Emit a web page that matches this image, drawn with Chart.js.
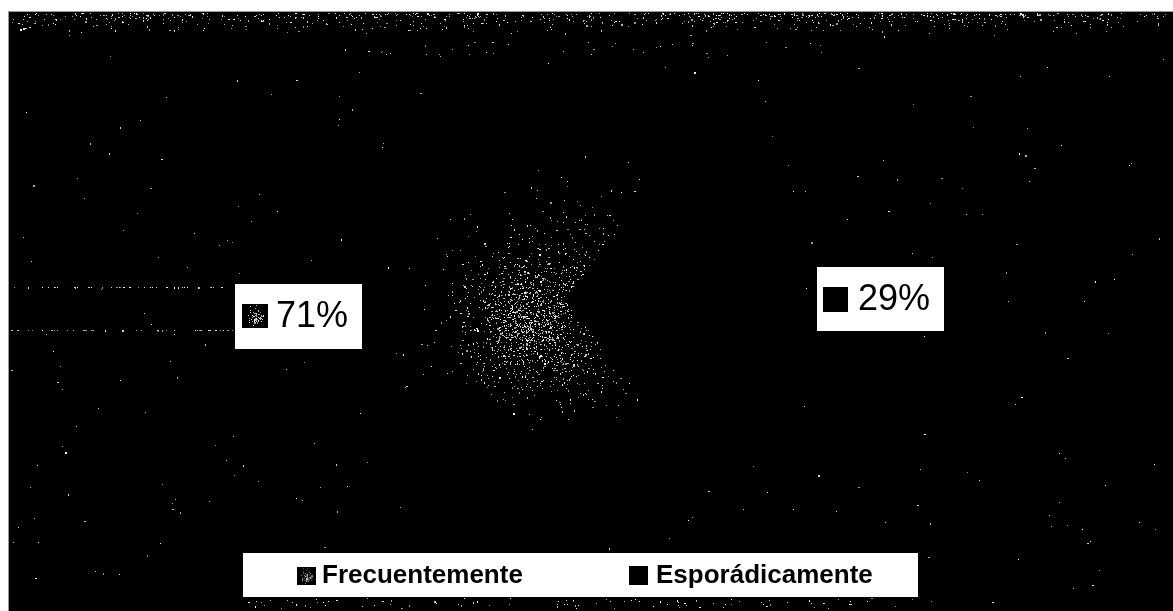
<!DOCTYPE html>
<html>
<head>
<meta charset="utf-8">
<title>Frecuencia</title>
<script src="https://cdn.jsdelivr.net/npm/chart.js@4/dist/chart.umd.min.js"></script>
<style>
    html, body { margin: 0; padding: 0; background: #fff; overflow: hidden; }
    #pie { display: block; }
</style>
</head>
<body>
<canvas id="pie" width="1173" height="611"></canvas>
<script>
const categories = ['Frecuentemente', 'Esporádicamente'];
const values = [71, 29];
const percentLabels = ['71%', '29%'];

// Fixed seed, the scan noise should look the same on every run
let seed = 20077;
function noise() {
    seed = (seed * 16807) % 2147483647;
    return seed / 2147483647;
}
function gauss() {
    return (noise() + noise() + noise() + noise() - 2) * 1.73;
}
function dot(g, x, y) {
    const shade = 140 + Math.floor(noise() * 115);
    g.fillStyle = 'rgb(' + shade + ',' + shade + ',' + shade + ')';
    g.fillRect(Math.round(x), Math.round(y), noise() < 0.15 ? 2 : 1, noise() < 0.15 ? 2 : 1);
}

// Speckled texture of the big slice
function sliceTexture() {
    const c = document.createElement('canvas');
    c.width = 1173; c.height = 611;
    const g = c.getContext('2d');
    g.fillStyle = '#000';
    g.fillRect(0, 0, c.width, c.height);
    // dense core, wider halo and the two wings along the small slice
    for (let i = 0; i < 1000; i++) dot(g, 532 + gauss() * 28, 318 + gauss() * 28);
    for (let i = 0; i < 420; i++) dot(g, 525 + gauss() * 48, 320 + gauss() * 42);
    for (let i = 0; i < 130; i++) dot(g, 565 + gauss() * 32, 240 + gauss() * 30);
    for (let i = 0; i < 130; i++) dot(g, 575 + gauss() * 30, 370 + gauss() * 20);
    return g.createPattern(c, 'no-repeat');
}

// Small tile for the color key of the big slice
function keyTexture() {
    const c = document.createElement('canvas');
    c.width = 26; c.height = 24;
    const g = c.getContext('2d');
    g.fillStyle = '#000';
    g.fillRect(0, 0, 26, 24);
    for (let i = 0; i < 55; i++) {
        dot(g, 13 + gauss() * 4, 12 + gauss() * 4);
    }
    return c;
}

// Noise on the black panel behind the pie
function drawPanel(g) {
    g.fillStyle = '#000';
    g.fillRect(8, 11, 1165, 600);
    g.fillStyle = '#999';
    g.fillRect(8, 11, 1165, 1);
    g.fillRect(8, 11, 1, 600);
    for (let i = 0; i < 750; i++) dot(g, 10 + noise() * 1160, 13 + noise() * noise() * 24);
    for (let i = 0; i < 35; i++) dot(g, 340 + noise() * 500, 41 + noise() * 16);
    for (let i = 0; i < 280; i++) dot(g, 10 + noise() * 1160, 40 + noise() * 565);
    for (let i = 0; i < 45; i++) dot(g, 10 + noise() * 225, 287);
    for (let i = 0; i < 40; i++) dot(g, 10 + noise() * 225, 330);
    for (let i = 0; i < 90; i++) dot(g, 240 + noise() * 680, 598 + noise() * 10);
}

const keyTile = keyTexture();

const boxes = [
    { left: 235, top: 284, width: 127, height: 65, keyX: 242, keyY: 304, keySize: 25, textX: 276, textY: 317 },
    { left: 817, top: 267, width: 127, height: 64, keyX: 823, keyY: 287, keySize: 25, textX: 858, textY: 300 }
];

const panelPlugin = {
    id: 'panel',
    beforeDraw(chart) {
        drawPanel(chart.ctx);
    },
    afterDraw(chart) {
        const g = chart.ctx;
        g.save();
        // percent labels
        boxes.forEach((b, i) => {
            g.fillStyle = '#fff';
            g.fillRect(b.left, b.top, b.width, b.height);
            if (i === 0) g.drawImage(keyTile, b.keyX, b.keyY, b.keySize + 1, b.keySize - 1);
            else { g.fillStyle = '#000'; g.fillRect(b.keyX, b.keyY, b.keySize, b.keySize); }
            g.fillStyle = '#000';
            g.font = '36px "Liberation Sans"';
            g.textBaseline = 'middle';
            g.textAlign = 'left';
            g.fillText(percentLabels[i], b.textX, b.textY);
        });
        // legend
        g.fillStyle = '#fff';
        g.fillRect(243, 553, 675, 44);
        g.drawImage(keyTile, 297, 567, 19, 18);
        g.fillStyle = '#000';
        g.fillRect(629, 566, 19, 19);
        g.font = 'bold 26px "Liberation Sans"';
        g.fillText(categories[0], 322, 576);
        g.fillText(categories[1], 656, 576);
        g.restore();
    }
};

new Chart(document.getElementById('pie'), {
    type: 'pie',
    data: {
        labels: categories,
        datasets: [{
            data: values,
            backgroundColor: [sliceTexture(), '#000'],
            borderWidth: 0
        }]
    },
    options: {
        responsive: false,
        animation: false,
        rotation: 142,
        radius: 230,
        layout: { padding: { right: 43, bottom: 11 } },
        plugins: {
            legend: { display: false },
            tooltip: { enabled: false }
        }
    },
    plugins: [panelPlugin]
});
</script>
</body>
</html>
